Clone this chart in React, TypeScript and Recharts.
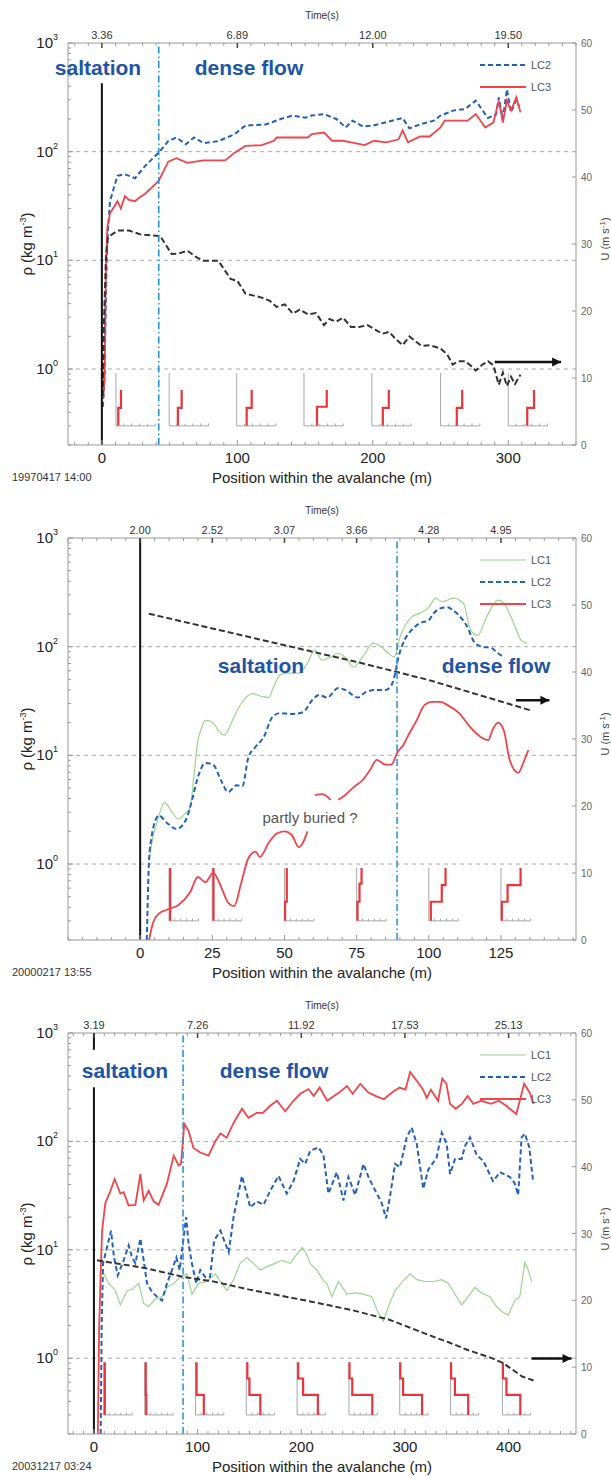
import React from 'react';
import { ComposedChart, Line, XAxis, YAxis, ReferenceLine } from 'recharts';

type P = [number, number | null];

const FONT = '"Liberation Sans", Arial, Helvetica, sans-serif';

// ---------- shared axes ----------
const RHO_DOMAIN: [number, number] = [0.2, 1000];
const RHO_DECADES = [0.1, 1, 10, 100];
const RHO_GRID = [1, 10, 100];
const U_DOMAIN: [number, number] = [0, 60];
const U_TICKS = [0, 10, 20, 30, 40, 50, 60];

// ---------- panel 1 : 19970417 14:00 ----------
const P1_DATE = '19970417 14:00';
const P1_DOMAIN: [number, number] = [-25, 350];
const P1_TICKS = [0, 100, 200, 300];
const P1_TIME = ['3.36', '6.89', '12.00', '19.50'];
const P1_FRONT: [number, number][] = [[0.2, 427]];
const P1_DENSE = 42;
const P1_LC2: P[] = [
  [0.8, 0.45], [2, 0.9], [3, 5], [4, 15], [6, 35], [11.5, 60], [17, 62], [24.5, 57], [32, 74], [42, 98],
  [49, 125], [55, 135], [62, 117], [68, 135], [75, 120], [86, 125], [98, 145], [106, 174], [121, 178],
  [132, 200], [141, 215], [150, 205], [155, 215], [164, 222], [173, 200], [180, 167], [185, 193], [193, 170],
  [201, 175], [210, 187], [222, 204], [227, 164], [236, 180], [245, 193], [250, 215], [260, 240], [268, 246],
  [276, 295], [285, 204], [291, 220], [293, 316], [296, 200], [299, 375], [302, 230], [306, 300], [308, 260],
];
const P1_LC3: P[] = [
  [1, 0.55], [2, 0.8], [3, 9], [4, 20], [6, 27], [11.5, 35], [14, 30], [17, 39], [20, 36], [24.5, 35],
  [28, 38], [32, 41], [37, 47], [42, 54], [46, 68], [49, 81], [55, 87], [63, 79], [75, 83], [91, 83],
  [98, 98], [106, 113], [118, 115], [127, 126], [129, 135], [144, 135], [152, 135], [155, 145], [164, 150],
  [170, 126], [178, 126], [184, 122], [194, 115], [201, 126], [210, 122], [219, 130], [222, 157], [226, 122],
  [235, 138], [242, 138], [250, 167], [253, 193], [260, 193], [270, 193], [276, 222], [283, 167], [289, 185],
  [293, 295], [296, 185], [299, 295], [302, 240], [306, 316], [309, 230],
];
const P1_U: P[] = [
  [0.6, 7.3], [1.5, 18], [3, 28], [4.5, 31], [11.5, 32], [20, 32], [29, 31.4], [43, 31.2], [51.5, 28.5],
  [57, 28.6], [63, 29], [70, 28], [75, 27.5], [86, 27.5], [95, 24.8], [100, 24.5], [106, 22.6], [118, 22],
  [124, 21.5], [129, 20.6], [135, 21], [141, 19.6], [146, 20.2], [152, 19.5], [158, 19.7], [164, 17.9],
  [168, 18.8], [173, 18.4], [178, 19], [184, 17.6], [190, 17.6], [196, 17.9], [202, 17.2], [207, 16.6],
  [212, 16.9], [217, 15.8], [222, 14.9], [227, 16.2], [232, 15.4], [236, 14.8], [242, 14.9], [250, 14.4],
  [255, 13.5], [259, 12], [263, 12.5], [268, 12.5], [272, 11.9], [276, 11.1], [281, 12], [285, 12.5],
  [289, 11.9], [293, 9], [296, 10.8], [299, 8.8], [302, 10.2], [305, 9.1], [309, 10.5],
];
const P1_ARROW: P[] = [[290, 12.4], [339, 12.4]];
const P1_INSET_X = [10.4, 49.7, 99.5, 149.2, 199.3, 250, 300];
const P1_INSET_W = 29;
const P1_INSETS: P[][] = [
  [[1.7, 0.3], [1.7, 0.44], [3.7, 0.44], [3.7, 0.64]],
  [[6.4, 0.3], [6.4, 0.44], [9.2, 0.44], [9.2, 0.64]],
  [[7.4, 0.3], [7.4, 0.44], [11.1, 0.44], [11.1, 0.64]],
  [[9.6, 0.3], [9.6, 0.45], [16.8, 0.45], [16.8, 0.64]],
  [[8.1, 0.3], [8.1, 0.44], [12.5, 0.44], [12.5, 0.64]],
  [[12, 0.3], [12, 0.44], [16, 0.44], [16, 0.64]],
  [[14, 0.3], [14, 0.44], [19, 0.44], [19, 0.64]],
];

// ---------- panel 2 : 20000217 13:55 ----------
const P2_DATE = '20000217 13:55';
const P2_DOMAIN: [number, number] = [-25, 151];
const P2_TICKS = [0, 25, 50, 75, 100, 125];
const P2_TIME = ['2.00', '2.52', '3.07', '3.66', '4.28', '4.95'];
const P2_FRONT: [number, number][] = [[0.2, 1000]];
const P2_DENSE = 89;
const P2_LC1: P[] = [
  [3.1, 1.1], [4.5, 1.8], [5.8, 2.4], [8.5, 3.7], [11, 3.0], [13.3, 2.6], [15.5, 2.9], [17.3, 3.3], [18.6, 6.3],
  [20, 13.8], [21, 17], [22.6, 21], [25.3, 20], [27, 17], [29.2, 15.4], [32, 21], [35, 30], [39, 37],
  [41.8, 35], [44.5, 34], [45.8, 40], [48.5, 55], [51, 57], [55, 57], [58, 71], [60.5, 93], [63, 75],
  [66, 80], [68.6, 87], [71, 80], [74, 65], [77, 80], [80.8, 108], [83.5, 100], [86, 87], [88, 80],
  [90, 122], [94, 187], [97, 204], [100, 230], [102.4, 280], [104.5, 260], [106.5, 268], [108.5, 280],
  [112, 250], [114.5, 142], [117, 127], [120, 187], [124, 268], [126.5, 240], [129, 175], [132, 115], [134, 108],
];
const P2_LC2: P[] = [
  [2.3, 0.2], [3.1, 1.1], [4, 1.8], [5.2, 2.5], [6.5, 2.8], [9.2, 2.4], [12.6, 2.1], [16, 2.6], [18, 3.9],
  [20, 6.3], [22.6, 8.5], [25.3, 8.2], [28, 5.9], [30.5, 4.6], [33.4, 5.3], [35.4, 5.2], [37.5, 9.6], [40, 12],
  [42.8, 14.7], [45.8, 22.5], [48.5, 24.5], [52.5, 24], [56.5, 25], [59.5, 32], [62, 36], [64.8, 34],
  [68.6, 41.6], [71, 40], [75.4, 34], [78, 38], [82, 40], [85, 40], [87, 44], [88, 52], [89.5, 80],
  [91.6, 115], [94, 142], [97, 165], [100, 175], [101.5, 200], [104, 225], [106.5, 230], [108.5, 215],
  [111, 187], [113, 158], [116, 108], [118.6, 100], [121.5, 98], [124, 87], [126, 80],
];
const P2_LC3: P[] = [
  [3.1, 0.2], [4.5, 0.29], [6.5, 0.35], [9.2, 0.38], [13.3, 0.42], [17.3, 0.55], [20, 0.76], [22.6, 0.68],
  [25.3, 0.83], [28, 0.62], [30.5, 0.44], [32.6, 0.41], [35, 0.67], [37.5, 1.13], [40, 1.3], [41.5, 1.16],
  [44.5, 1.56], [47.2, 1.9], [50, 2.0], [52.5, 1.85], [55, 1.43], [58, 2.0], [59.2, null],
  [60.5, 4.3], [63, 4.4], [66, 3.9], [67.3, null],
  [68.6, 3.9], [71, 4.3], [74, 5.1], [77, 5.9], [79.6, 7.3], [82, 9.1], [85, 8.2], [87, 8.2], [89, 10.5],
  [91.6, 13], [92.4, 14.4], [95.8, 21], [98.5, 29], [101, 31], [104, 31], [106.5, 29], [110.5, 24.5],
  [114.5, 18], [118.6, 14.4], [120.6, 13.8], [122, 17], [124, 20], [126, 17], [128, 9.1], [131, 6.9],
  [133, 8.9], [134.5, 11.2],
];
const P2_U: P[] = [[3, 48.7], [25, 46.5], [50, 44], [75, 41.5], [89, 40], [100, 38.8], [125, 35.6], [135, 34.3]];
const P2_ARROW: P[] = [[130.2, 35.8], [141.8, 35.8]];
const P2_INSET_X = [10, 25, 50, 75, 100, 125];
const P2_INSET_W = 10.2;
const P2_INSETS: P[][] = [
  [[0.4, 0.3], [0.4, 0.92]],
  [[0.4, 0.3], [0.4, 0.92]],
  [[0.2, 0.3], [0.2, 0.45], [0.8, 0.45], [0.8, 0.92]],
  [[0.3, 0.3], [0.3, 0.45], [1.0, 0.45], [1.0, 0.66], [1.7, 0.66], [1.7, 0.92]],
  [[0.7, 0.3], [0.7, 0.45], [4.5, 0.45], [4.5, 0.64], [5.8, 0.64], [5.8, 0.92]],
  [[0.3, 0.3], [0.3, 0.45], [2.3, 0.45], [2.3, 0.64], [6.8, 0.64], [6.8, 0.92]],
];

// ---------- panel 3 : 20031217 03:24 ----------
const P3_DATE = '20031217 03:24';
const P3_DOMAIN: [number, number] = [-25, 465];
const P3_TICKS = [0, 100, 200, 300, 400];
const P3_TIME = ['3.19', '7.26', '11.92', '17.53', '25.13'];
const P3_FRONT: [number, number][] = [[0.2, 316], [700, 1000]];
const P3_DENSE = 86;
const P3_LC1: P[] = [
  [5.3, 5.8], [9.5, 6], [14.3, 4.9], [20.7, 4.2], [25.5, 3.1], [32, 4.2], [36.7, 4.3], [43.2, 4.9], [48, 3.2],
  [52.8, 3.0], [59.2, 3.5], [65.7, 3.7], [70.5, 4.5], [77, 4.9], [83.3, 5.6], [89.7, 6], [94.5, 3.9],
  [101, 4.9], [109, 5.1], [117, 6], [123.4, 4.9], [128.3, 4.2], [134.7, 5.3], [141, 7.5], [147.6, 8.5],
  [154, 7.5], [160.4, 6.5], [166.8, 7], [174.8, 7.5], [181, 8], [189.3, 7.5], [197.3, 9.5], [201, 10.5],
  [205, 9.2], [208.6, 7.5], [215, 6.5], [221.4, 5.2], [224.6, 4.9], [229.5, 3.7], [235.9, 5.1], [244, 3.9],
  [252, 4.0], [260, 3.9], [268, 3.7], [274.4, 2.6], [279.2, 2.2], [284, 3.0], [290.5, 4.2], [298.5, 5.2],
  [305, 6], [311.4, 5.3], [319.4, 5.1], [327.4, 5.1], [335.5, 5.3], [341.9, 4.9], [348.3, 3.9], [354.7, 3.1],
  [361, 3.7], [367.5, 4.5], [374, 4.0], [382, 3.7], [388.4, 3.0], [393.3, 2.7], [399.6, 2.5], [406, 3.4],
  [410.8, 3.7], [415.7, 7.7], [419, 6.5], [422.2, 5.1],
];
const P3_LC2: P[] = [
  [6.5, 0.2], [7.5, 2], [8.8, 7.5], [12.7, 10.6], [16.5, 15], [19.4, 8.5], [23, 5.8], [28.7, 8], [33.5, 11],
  [36.7, 8.5], [40, 7.5], [44.8, 12.7], [48, 8], [51.2, 4.9], [56, 4.1], [60.8, 3.7], [65.7, 3.4], [70.5, 4.9],
  [75.3, 6.5], [79.5, 8.5], [82.7, 6.5], [86.5, 13], [89, 20], [91.3, 11.4], [94.5, 7.5], [98.7, 4.9],
  [102.6, 6.5], [107.4, 5.6], [112, 5.6], [116, 12.2], [122, 15], [126.8, 11.4], [130, 9.5], [134.7, 20],
  [142.8, 48], [146, 37], [150.8, 24.6], [157, 28], [163.6, 26], [170, 35], [178, 48], [186, 33], [192.5, 43],
  [199, 69], [203.8, 62], [208.6, 82], [216.6, 88], [221.4, 75], [226.2, 33], [234.3, 52], [240.7, 28.5],
  [245.5, 47], [252, 32], [260, 62], [264.8, 47], [269.5, 38], [274.4, 31], [277.6, 27], [281.8, 19.5],
  [285.6, 31], [290.5, 62], [295.3, 58], [301.7, 109], [306.5, 134], [311.4, 95], [317.7, 36.5], [322.5, 55],
  [327.4, 64], [330.6, 71], [335.5, 120], [340.3, 95], [343.5, 50], [348.3, 69], [354.7, 69], [358, 91],
  [362.8, 109], [369.2, 75], [375.6, 66], [385, 43], [391.6, 52], [401.2, 47], [406, 41], [409.2, 32],
  [412.5, 109], [415.7, 118], [420, 88], [423.7, 42],
];
const P3_LC3: P[] = [
  [3.8, 0.2], [5, 1.8], [6.5, 6], [7.9, 15], [11, 27], [16, 35], [20, 45], [25.5, 33], [28.7, 34], [33.5, 25.6],
  [40, 26], [44.8, 50], [48, 28.5], [52.8, 35], [57.6, 28], [62.4, 26], [70.5, 41], [77, 74], [81.7, 60],
  [84, 62], [87.2, 145], [91.3, 125], [96, 87], [102.6, 79], [110.6, 74], [117, 100], [122, 118], [128, 108],
  [134.7, 148], [142.8, 200], [149, 165], [157, 183], [163, 183], [170, 213], [176.5, 237], [184.5, 190],
  [192.5, 237], [199, 275], [207, 304], [212, 262], [217.8, 314], [225, 237], [236.5, 282], [244, 324],
  [249.6, 275], [257, 340], [264.7, 282], [272, 262], [279.7, 245], [287.5, 282], [294.8, 314], [300.5, 300],
  [305, 437], [311.6, 360], [317.5, 300], [321, 252], [325, 300], [332, 237], [336, 380], [340, 340],
  [343.5, 222], [349, 200], [355, 222], [360.4, 262], [366, 222], [373.6, 237], [383, 222], [390.5, 237],
  [398, 212], [407.4, 178], [415, 340], [420.5, 280], [424, 222],
];
const P3_U: P[] = [
  [3, 26], [50, 24.8], [86.5, 23.5], [116, 22.8], [150, 21.6], [210, 19.8], [250, 18.5], [285, 17.1],
  [305, 15.9], [330, 14.4], [341, 13.8], [360, 12.6], [383, 11.4], [395, 10.6], [413, 8.6], [424, 8.0],
];
const P3_ARROW: P[] = [[422, 11.3], [460.7, 11.3]];
const P3_INSET_X = [9.5, 49, 98, 147, 196, 246, 295, 344, 394];
const P3_INSET_W = 27.3;
const P3_INSETS: P[][] = [
  [[1, 0.92], [1, 0.3]],
  [[1, 0.92], [1, 0.46], [1.5, 0.46], [1.5, 0.3]],
  [[1, 0.92], [1, 0.46], [8, 0.46], [8, 0.3]],
  [[1, 0.92], [1, 0.65], [3, 0.65], [3, 0.46], [13.5, 0.46], [13.5, 0.3]],
  [[1, 0.92], [1, 0.65], [5.8, 0.65], [5.8, 0.46], [20, 0.46], [20, 0.3]],
  [[0.5, 0.92], [0.5, 0.65], [3.2, 0.65], [3.2, 0.46], [22.5, 0.46], [22.5, 0.3]],
  [[0.5, 0.92], [0.5, 0.65], [3.2, 0.65], [3.2, 0.46], [21.5, 0.46], [21.5, 0.3]],
  [[0.5, 0.92], [0.5, 0.65], [4.2, 0.65], [4.2, 0.46], [17, 0.46], [17, 0.3]],
  [[0.5, 0.92], [0.5, 0.65], [3.9, 0.65], [3.9, 0.46], [17.3, 0.46], [17.3, 0.3]],
];

// ---------- styles ----------
const LC1 = { name: 'LC1', color: '#9bd68d', width: 1.2, dash: undefined as string | undefined };
const LC2 = { name: 'LC2', color: '#2560b8', width: 2, dash: '5 3' };
const LC3 = { name: 'LC3', color: '#f0444a', width: 1.8, dash: undefined as string | undefined };
const BLUE_TXT = '#2154a6';

const toPts = (a: P[]) => a.map(([x, y]) => ({ x, y }));

function range(a: number, b: number, step: number) {
  const out: number[] = [];
  for (let v = a; v <= b + 1e-9; v += step) out.push(Math.round(v * 100) / 100);
  return out;
}

const LOG_TICKS = RHO_DECADES.flatMap((d) => [1, 2, 3, 4, 5, 6, 7, 8, 9].map((k) => Math.round(k * d * 1000) / 1000))
  .concat([1000])
  .filter((v) => v >= RHO_DOMAIN[0] && v <= RHO_DOMAIN[1]);

// small inset frames: vertical axis, horizontal axis and its tick marks
function insetAxes(xs: number[], w: number) {
  const out: { x: number; y: number | null }[] = [];
  xs.forEach((p) => {
    out.push({ x: p, y: 0.92 }, { x: p, y: 0.3 }, { x: p + w, y: 0.3 }, { x: p + w, y: null });
    [0.2, 0.4, 0.6, 0.8, 1].forEach((f) => {
      out.push({ x: p + w * f, y: 0.3 }, { x: p + w * f + 0.001, y: 0.315 }, { x: p + w * f + 0.002, y: null });
    });
  });
  return out;
}

function insetProfiles(xs: number[], profiles: P[][]) {
  const out: { x: number; y: number | null }[] = [];
  profiles.forEach((pr, i) => {
    pr.forEach(([dx, y]) => out.push({ x: xs[i] + dx, y }));
    out.push({ x: xs[i] + pr[pr.length - 1][0] + 0.01, y: null });
  });
  return out;
}

// ---------- ticks ----------
const LeftTick = (props: any) => {
  const { x, y, payload } = props;
  const v = payload.value as number;
  const e = Math.round(Math.log10(v));
  const major = Math.abs(v - Math.pow(10, e)) < 1e-6;
  return (
    <g>
      <line x1={x} x2={x + (major ? 5 : 3)} y1={y} y2={y} stroke="#999" />
      {major && (
        <text x={x - 10} y={y + 5} textAnchor="end" fontSize={15} fill="#222" fontFamily={FONT}>
          10<tspan dy={-8} fontSize={9}>{e}</tspan>
        </text>
      )}
    </g>
  );
};

const RightTick = (props: any) => {
  const { x, y, payload } = props;
  return (
    <g>
      <line x1={x} x2={x - 4} y1={y} y2={y} stroke="#999" />
      <text x={x + 5} y={y + 4} fontSize={10} fill="#666" fontFamily={FONT}>{payload.value}</text>
    </g>
  );
};

const makeBottomTick = (majors: number[]) => (props: any) => {
  const { x, y, payload } = props;
  const major = majors.includes(payload.value);
  return (
    <g>
      <line x1={x} x2={x} y1={y} y2={y - (major ? 5 : 3)} stroke="#999" />
      {major && (
        <text x={x} y={y + 18} textAnchor="middle" fontSize={15} fill="#222" fontFamily={FONT}>{payload.value}</text>
      )}
    </g>
  );
};

const makeTopTick = (majors: number[], labels: string[]) => (props: any) => {
  const { x, y, payload } = props;
  const i = majors.indexOf(payload.value);
  return (
    <g>
      <line x1={x} x2={x} y1={y} y2={y + (i >= 0 ? 5 : 3)} stroke={i >= 0 ? '#444' : '#999'} strokeWidth={i >= 0 ? 1.5 : 1} />
      {i >= 0 && (
        <text x={x} y={y - 4} textAnchor="middle" fontSize={11} fill="#333" fontFamily={FONT}>{labels[i]}</text>
      )}
    </g>
  );
};

// ---------- overlays ----------
function Txt({ x, y, size, color = '#222', bold, rotate, children, left }: any) {
  return (
    <div
      style={{
        position: 'absolute', left: x, top: y, fontFamily: FONT, fontSize: size, color,
        fontWeight: bold ? 700 : 400, whiteSpace: 'nowrap', lineHeight: 1,
        transform: left ? 'translate(0,-50%)' : `translate(-50%,-50%)${rotate ? ` rotate(${rotate}deg)` : ''}`,
      }}
    >
      {children}
    </div>
  );
}

function LegendBox({ items, top }: { items: typeof LC2[]; top: number }) {
  return (
    <>
      {items.map((it, i) => (
        <div key={it.name} style={{ position: 'absolute', left: 480, top: top + i * 22 - 7, height: 14, display: 'flex', alignItems: 'center', fontFamily: FONT, fontSize: 11, color: '#555' }}>
          <svg width={46} height={6}>
            <line x1={0} x2={46} y1={3} y2={3} stroke={it.color} strokeWidth={it.width} strokeDasharray={it.dash} />
          </svg>
          <span style={{ marginLeft: 5 }}>{it.name}</span>
        </div>
      ))}
    </>
  );
}

type PanelProps = {
  top: number; height: number; bottomH: number; date: string;
  domain: [number, number]; ticks: number[]; minor: number; time: string[];
  front: [number, number][]; dense: number;
  lc1?: P[]; lc2: P[]; lc3: P[]; u: P[]; arrow: P[]; curve: 'linear' | 'monotone';
  insetX: number[]; insetW: number; insets: P[][];
  labelY: number; salX: number; denseX: number; extra?: React.ReactNode;
};

function Panel(p: PanelProps) {
  const plotTop = 43;
  const plotBottom = p.height - p.bottomH;
  const mid = (plotTop + plotBottom) / 2;
  const xt = range(Math.ceil(p.domain[0] / p.minor) * p.minor, p.domain[1], p.minor);
  const BottomTick = makeBottomTick(p.ticks);
  const TopTick = makeTopTick(p.ticks, p.time);
  const legend = p.lc1 ? [LC1, LC2, LC3] : [LC2, LC3];
  const series = [
    ...(p.lc1 ? [{ s: LC1, d: p.lc1 }] : []),
    { s: LC2, d: p.lc2 },
    { s: LC3, d: p.lc3 },
  ];
  return (
    <div style={{ position: 'absolute', left: 0, top: p.top, width: 611, height: p.height }}>
      <ComposedChart width={611} height={p.height} margin={{ top: 0, right: 0, bottom: 0, left: 0 }}>
        <XAxis xAxisId="b" type="number" dataKey="x" domain={p.domain} ticks={xt} interval={0} allowDataOverflow
          height={p.bottomH} tickSize={0} tickMargin={0} tickLine={false} axisLine={{ stroke: '#999' }} tick={BottomTick} />
        <XAxis xAxisId="t" orientation="top" type="number" dataKey="x" domain={p.domain} ticks={xt} interval={0} allowDataOverflow
          height={43} tickSize={0} tickMargin={0} tickLine={false} axisLine={{ stroke: '#999' }} tick={TopTick} />
        <YAxis yAxisId="r" scale="log" type="number" domain={RHO_DOMAIN} ticks={LOG_TICKS} interval={0} allowDataOverflow
          width={68} tickSize={0} tickMargin={0} tickLine={false} axisLine={{ stroke: '#999' }} tick={LeftTick} />
        <YAxis yAxisId="u" orientation="right" type="number" domain={U_DOMAIN} ticks={U_TICKS} interval={0} allowDataOverflow
          width={35} tickSize={0} tickMargin={0} tickLine={false} axisLine={{ stroke: '#999' }} tick={RightTick} />

        {RHO_GRID.map((g) => (
          <ReferenceLine key={`g${g}`} xAxisId="b" yAxisId="r" y={g} stroke="#aaa" strokeDasharray="4 4" />
        ))}

        <Line xAxisId="t" yAxisId="r" data={insetAxes(p.insetX, p.insetW)} dataKey="y" stroke="#a8a8a8" strokeWidth={1}
          dot={false} activeDot={false} isAnimationActive={false} type="linear" />
        <Line xAxisId="t" yAxisId="r" data={insetProfiles(p.insetX, p.insets)} dataKey="y" stroke="#e8353c" strokeWidth={2.2}
          dot={false} activeDot={false} isAnimationActive={false} type="linear" />

        {series.map(({ s, d }) => (
          <Line key={s.name} xAxisId="b" yAxisId="r" data={toPts(d)} dataKey="y" stroke={s.color} strokeWidth={s.width}
            strokeDasharray={s.dash} dot={false} activeDot={false} isAnimationActive={false} type={p.curve} />
        ))}
        <Line xAxisId="b" yAxisId="u" data={toPts(p.u)} dataKey="y" stroke="#333" strokeWidth={2} strokeDasharray="6 3"
          dot={false} activeDot={false} isAnimationActive={false} type="linear" />

        {p.front.map(([a, b]) => (
          <ReferenceLine key={`f${a}`} xAxisId="b" yAxisId="r" segment={[{ x: 0, y: a }, { x: 0, y: b }]} stroke="#111" strokeWidth={2} />
        ))}
        <ReferenceLine xAxisId="b" yAxisId="r" x={p.dense} stroke="#1f8fe2" strokeWidth={1.5} strokeDasharray="7 3 1.5 3" />

        <Line xAxisId="b" yAxisId="u" data={toPts(p.arrow)} dataKey="y" stroke="#111" strokeWidth={2.5}
          activeDot={false} isAnimationActive={false} type="linear"
          dot={(d: any) => d.index === p.arrow.length - 1
            ? <polygon key="head" points={`${d.cx},${d.cy} ${d.cx - 9},${d.cy - 4.5} ${d.cx - 9},${d.cy + 4.5}`} fill="#111" />
            : <g key={`n${d.index}`} />} />
      </ComposedChart>

      <Txt x={322} y={16} size={10} color="#333">Time(s)</Txt>
      <Txt x={26} y={mid} size={15} rotate={-90}>ρ (kg m<sup style={{ fontSize: 9 }}>-3</sup>)</Txt>
      <Txt x={605} y={mid - 5} size={11} color="#444" rotate={-90}>U (m s<sup style={{ fontSize: 8 }}>-1</sup>)</Txt>
      <Txt x={322} y={plotBottom + 32} size={15}>Position within the avalanche (m)</Txt>
      <Txt x={12} y={plotBottom + 32} size={11} color="#333" left>{p.date}</Txt>
      <Txt x={p.salX} y={p.labelY} size={21} color={BLUE_TXT} bold>saltation</Txt>
      <Txt x={p.denseX} y={p.labelY} size={21} color={BLUE_TXT} bold>dense flow</Txt>
      {p.extra}
      <LegendBox items={legend} top={plotTop + 22} />
    </div>
  );
}

export default function App() {
  return (
    <div style={{ position: 'absolute', left: 0, top: 0, width: 611, height: 1477, background: '#fff', overflow: 'hidden' }}>
      <Panel top={0} height={490} bottomH={45} date={P1_DATE} domain={P1_DOMAIN} ticks={P1_TICKS} minor={10} time={P1_TIME}
        front={P1_FRONT} dense={P1_DENSE} lc2={P1_LC2} lc3={P1_LC3} u={P1_U} arrow={P1_ARROW} curve="linear"
        insetX={P1_INSET_X} insetW={P1_INSET_W} insets={P1_INSETS} labelY={67} salX={98} denseX={249} />
      <Panel top={495} height={490} bottomH={45} date={P2_DATE} domain={P2_DOMAIN} ticks={P2_TICKS} minor={5} time={P2_TIME}
        front={P2_FRONT} dense={P2_DENSE} lc1={P2_LC1} lc2={P2_LC2} lc3={P2_LC3} u={P2_U} arrow={P2_ARROW} curve="monotone"
        insetX={P2_INSET_X} insetW={P2_INSET_W} insets={P2_INSETS} labelY={170} salX={261} denseX={496}
        extra={<Txt x={310} y={322} size={15} color="#555">partly buried ?</Txt>} />
      <Panel top={990} height={487} bottomH={43} date={P3_DATE} domain={P3_DOMAIN} ticks={P3_TICKS} minor={10} time={P3_TIME}
        front={P3_FRONT} dense={P3_DENSE} lc1={P3_LC1} lc2={P3_LC2} lc3={P3_LC3} u={P3_U} arrow={P3_ARROW} curve="linear"
        insetX={P3_INSET_X} insetW={P3_INSET_W} insets={P3_INSETS} labelY={80} salX={125} denseX={274} />
    </div>
  );
}
